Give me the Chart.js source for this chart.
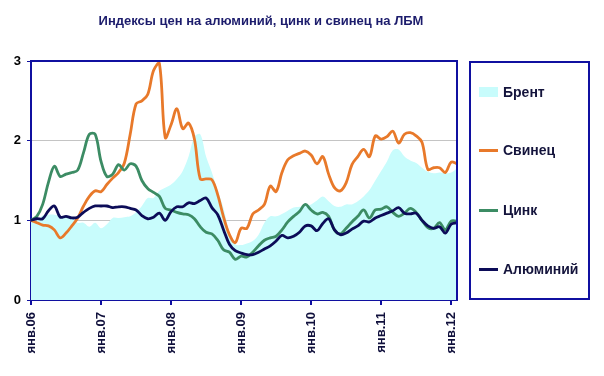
<!DOCTYPE html>
<html>
<head>
<meta charset="utf-8">
<script src="https://cdn.jsdelivr.net/npm/chart.js@4"></script>
<style>
  body { margin: 0; background: #fff; font-family: Arial, "Liberation Sans", sans-serif; }
  #wrap { position: relative; width: 604px; height: 376px; }
  #title { position: absolute; left: 0; width: 522px; top: 13px; text-align: center;
           font-weight: bold; font-size: 13px; color: #1c1c6c; }
  #legend { position: absolute; left: 469px; top: 61px; width: 117px; height: 235px;
            border: 2px solid #1010a0; }
  .item { position: absolute; left: 8px; font-weight: bold; font-size: 14px; color: #14143c;
          display: flex; align-items: center; height: 16px; }
  .mark { width: 19px; margin-right: 5px; }
</style>
</head>
<body>
<div id="wrap">
  <div id="title">Индексы цен на алюминий, цинк и свинец на ЛБМ</div>
  <canvas id="c" width="604" height="376"></canvas>
  <div id="legend"></div>
</div>
<script>
// месяцы янв.06 - фев.12
const months = ["янв", "фев", "мар", "апр", "май", "июн", "июл", "авг", "сен", "окт", "ноя", "дек"];
const years = ["06", "07", "08", "09", "10", "11", "12"];
const labels = [];
years.forEach(y => months.forEach(m => labels.push(m + "." + y)));
labels.length = 74;

const brent = [1.00, 1.00, 1.06, 1.07, 1.07, 1.05, 1.05, 1.04, 0.97, 0.97, 0.92, 0.97,
    0.90, 0.95, 1.03, 1.03, 1.04, 1.05, 1.10, 1.18, 1.28, 1.28, 1.37, 1.41,
    1.45, 1.52, 1.62, 1.80, 2.05, 2.08, 1.80, 1.60, 1.37, 1.15, 0.85, 0.70,
    0.69, 0.71, 0.74, 0.82, 0.97, 1.05, 1.05, 1.08, 1.12, 1.16, 1.17, 1.18,
    1.20, 1.25, 1.30, 1.24, 1.18, 1.17, 1.20, 1.20, 1.24, 1.30, 1.38, 1.50,
    1.62, 1.74, 1.88, 1.89, 1.80, 1.75, 1.72, 1.66, 1.61, 1.59, 1.60, 1.59,
    1.60, 1.65];

const svinec = [1.00, 0.97, 0.94, 0.93, 0.88, 0.78, 0.84, 0.93, 1.03, 1.18, 1.30, 1.37,
    1.36, 1.45, 1.53, 1.60, 1.72, 2.08, 2.46, 2.50, 2.58, 2.88, 2.97, 2.04,
    2.20, 2.40, 2.15, 2.22, 2.02, 1.52, 1.52, 1.51, 1.32, 1.04, 0.82, 0.72,
    0.90, 0.90, 1.08, 1.13, 1.20, 1.43, 1.36, 1.60, 1.76, 1.81, 1.84, 1.87,
    1.82, 1.71, 1.80, 1.58, 1.41, 1.37, 1.47, 1.70, 1.80, 1.89, 1.80, 2.06,
    2.02, 2.05, 2.12, 1.97, 2.08, 2.10, 2.06, 1.98, 1.64, 1.66, 1.66, 1.60,
    1.73, 1.71];

const cink = [1.00, 1.05, 1.20, 1.48, 1.68, 1.55, 1.58, 1.60, 1.63, 1.85, 2.08, 2.08,
    1.74, 1.55, 1.58, 1.70, 1.63, 1.71, 1.68, 1.50, 1.40, 1.35, 1.30, 1.15,
    1.13, 1.10, 1.08, 1.07, 1.02, 0.92, 0.85, 0.83, 0.75, 0.63, 0.60, 0.51,
    0.55, 0.54, 0.60, 0.68, 0.75, 0.78, 0.80, 0.88, 0.98, 1.05, 1.11, 1.20,
    1.13, 1.08, 1.10, 1.05, 0.88, 0.83, 0.90, 0.98, 1.05, 1.13, 1.03, 1.13,
    1.14, 1.17, 1.10, 1.05, 1.09, 1.15, 1.10, 1.00, 0.91, 0.90, 0.97, 0.88,
    0.99, 0.99];

const aluminiy = [1.00, 1.02, 1.02, 1.12, 1.18, 1.04, 1.05, 1.03, 1.04, 1.10, 1.15, 1.18,
    1.18, 1.18, 1.16, 1.17, 1.17, 1.15, 1.13, 1.06, 1.02, 1.04, 1.09, 1.00,
    1.11, 1.17, 1.17, 1.22, 1.21, 1.25, 1.28, 1.16, 1.07, 0.88, 0.70, 0.62,
    0.59, 0.57, 0.57, 0.60, 0.64, 0.68, 0.74, 0.81, 0.78, 0.80, 0.85, 0.93,
    0.93, 0.87, 0.96, 1.02, 0.88, 0.82, 0.84, 0.89, 0.93, 0.99, 0.98, 1.03,
    1.06, 1.09, 1.12, 1.16, 1.09, 1.08, 1.09, 1.00, 0.93, 0.90, 0.92, 0.84,
    0.95, 0.97];

const axisBlue = "#1010a0";
const font = "Arial, 'Liberation Sans', sans-serif";

const series = [
    { label: "Брент", data: brent, color: "#c8fcfc", area: true },
    { label: "Свинец", data: svinec, color: "#e8792a" },
    { label: "Цинк", data: cink, color: "#3c8c64" },
    { label: "Алюминий", data: aluminiy, color: "#0c0c58" }
];

// рамка графика сверху и справа
const frame = {
    id: "frame",
    afterDatasetsDraw(chart) {
        const a = chart.chartArea;
        const ctx = chart.ctx;
        ctx.save();
        ctx.strokeStyle = axisBlue;
        ctx.lineWidth = 2;
        ctx.beginPath();
        ctx.moveTo(a.left, a.top);
        ctx.lineTo(a.right, a.top);
        ctx.lineTo(a.right, a.bottom);
        ctx.stroke();
        ctx.restore();
    }
};

new Chart(document.getElementById("c"), {
    type: "line",
    data: {
        labels: labels,
        datasets: series.map((s, i) => ({
            label: s.label,
            data: s.data,
            order: s.area ? 10 : 4 - i,
            borderColor: s.area ? "rgba(0,0,0,0)" : s.color,
            backgroundColor: s.color,
            borderWidth: s.area ? 0 : 2.8,
            fill: s.area ? "origin" : false,
            pointRadius: 0,
            tension: 0.35
        }))
    },
    options: {
        responsive: false,
        animation: false,
        layout: { padding: { top: 61, right: 147, left: 0, bottom: 0 } },
        plugins: { legend: { display: false }, title: { display: false }, tooltip: { enabled: false } },
        scales: {
            x: {
                type: "category",
                offset: false,
                afterFit: s => { s.height = 76; },
                border: { color: axisBlue, width: 2 },
                grid: { drawOnChartArea: false, tickLength: 5, tickColor: axisBlue, lineWidth: 2 },
                ticks: {
                    autoSkip: false,
                    maxRotation: 90,
                    minRotation: 90,
                    padding: 7,
                    color: "#10103c",
                    font: { family: font, size: 13, weight: "bold" },
                    callback: (v, i) => i % 12 === 0 ? labels[i] : null
                }
            },
            y: {
                min: 0,
                max: 3,
                afterFit: s => { s.width = 31; },
                border: { color: axisBlue, width: 2 },
                grid: {
                    color: c => (c.tick.value === 1 || c.tick.value === 2) ? "#c4c4c4" : "rgba(0,0,0,0)",
                    tickColor: axisBlue,
                    tickLength: 4,
                    lineWidth: 1
                },
                ticks: {
                    stepSize: 1,
                    padding: 6,
                    color: "#000",
                    font: { family: font, size: 13, weight: "bold" }
                }
            }
        }
    },
    plugins: [frame]
});

// легенда справа
const legend = document.getElementById("legend");
const tops = [21, 79, 139, 198];
series.forEach((s, i) => {
    const item = document.createElement("div");
    item.className = "item";
    item.style.top = tops[i] + "px";
    const mark = document.createElement("span");
    mark.className = "mark";
    mark.style.height = s.area ? "10px" : "3px";
    mark.style.background = s.color;
    item.appendChild(mark);
    item.appendChild(document.createTextNode(s.label));
    legend.appendChild(item);
});
</script>
</body>
</html>
